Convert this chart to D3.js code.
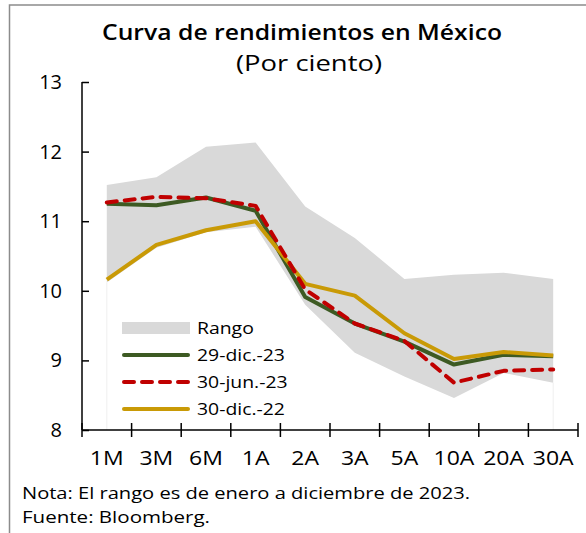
<!DOCTYPE html>
<html><head><meta charset="utf-8">
<script src="https://cdn.jsdelivr.net/npm/d3@7"></script>
<style>body{margin:0;background:#fff}svg{display:block}text{font-family:"Open Sans","Noto Sans",sans-serif;fill:#000}</style>
</head><body>
<svg id="c" width="586" height="533"></svg>
<script>
const categories = ["1M","3M","6M","1A","2A","3A","5A","10A","20A","30A"];
const rangoMax = [11.52,11.63,12.07,12.13,11.21,10.76,10.17,10.23,10.26,10.17];
const rangoMin = [10.12,10.62,10.84,10.92,9.80,9.11,8.77,8.46,8.82,8.68];
const dic23 = [11.25,11.23,11.34,11.15,9.91,9.53,9.27,8.94,9.08,9.06];
const jun23 = [11.27,11.35,11.33,11.22,10.02,9.53,9.28,8.68,8.85,8.87];
const dic22 = [10.16,10.66,10.87,11.00,10.10,9.93,9.39,9.02,9.12,9.07];
const yTicks = [8,9,10,11,12,13];
const seriesNames = ["Rango","29-dic.-23","30-jun.-23","30-dic.-22"];

const svg = d3.select("#c");
const x = d3.scaleBand().domain(categories).range([82,578]).padding(0);
const y = d3.scaleLinear().domain([8,13]).range([430,82]);
const cx = c => x(c) + x.bandwidth()/2;

function fit(sel, target){ sel.attr("textLength", target).attr("lengthAdjust","spacingAndGlyphs"); return sel; }
function widen(sel, f){ sel.each(function(){ const w=this.getComputedTextLength(); d3.select(this).attr("textLength", w*f).attr("lengthAdjust","spacingAndGlyphs"); }); return sel; }

// frame
svg.append("path").attr("d","M9.5,533V5H586").attr("fill","none").attr("stroke","#8c8c8c").attr("stroke-width",1.5);

// title
fit(svg.append("text").attr("x",302).attr("y",40).attr("text-anchor","middle")
  .style("font-size","21px").style("font-weight","600").text("Curva de rendimientos en México"), 400);
fit(svg.append("text").attr("x",309).attr("y",71).attr("text-anchor","middle")
  .style("font-size","21px").text("(Por ciento)"), 146);

// range area
const area = d3.area().x((d,i)=>cx(categories[i])).y0((d,i)=>y(rangoMin[i])).y1(d=>y(d));
svg.append("path").datum(rangoMax).attr("d",area).attr("fill","#d9d9d9");
[0,categories.length-1].forEach(i=>{
  svg.append("line").attr("x1",cx(categories[i])).attr("x2",cx(categories[i]))
    .attr("y1",y(rangoMin[i])).attr("y2",y(8)).attr("stroke","#efefef").attr("stroke-width",1);
});

const line = d3.line().x((d,i)=>cx(categories[i])).y(d=>y(d));
const styles = [
  {data:dic23,color:"#3d5a23",dash:null},
  {data:dic22,color:"#c99a06",dash:null},
  {data:jun23,color:"#c00000",dash:"10,8"}
];
styles.forEach(s=>{
  svg.append("path").datum(s.data).attr("d",line).attr("fill","none")
    .attr("stroke",s.color).attr("stroke-width",4)
    .attr("stroke-linejoin","round")
    .attr("stroke-linecap", s.dash? "round":"butt")
    .attr("stroke-dasharray",s.dash);
});

// axes
const yAxis = d3.axisRight(y).tickValues(yTicks).tickSize(7).tickFormat("");
const gy = svg.append("g").attr("transform","translate(82,0)").call(yAxis);
gy.select(".domain").attr("d","M0,"+y(13)+"V"+y(8));
gy.selectAll("line").attr("stroke","#000").attr("stroke-width",1.5);
gy.select(".domain").attr("stroke","#000").attr("stroke-width",1.5);
svg.append("g").selectAll("text").data(yTicks).join("text")
  .attr("x",62).attr("y",d=>y(d)+7).attr("text-anchor","end")
  .style("font-size","20px").text(d=>d);

const bounds = categories.map(c=>x(c)).concat([x.range()[1]]);
svg.append("line").attr("x1",82).attr("x2",578).attr("y1",430).attr("y2",430).attr("stroke","#000").attr("stroke-width",1.5);
svg.append("g").selectAll("line").data(bounds).join("line")
  .attr("x1",d=>d).attr("x2",d=>d).attr("y1",423).attr("y2",437).attr("stroke","#000").attr("stroke-width",1.5);
widen(svg.append("g").selectAll("text").data(categories).join("text")
  .attr("x",d=>cx(d)).attr("y",465).attr("text-anchor","middle")
  .style("font-size","20px").text(d=>d), 1.15);

// legend
const lg = svg.append("g");
const ly = [328,355,382,409];
lg.append("rect").attr("x",122).attr("y",ly[0]-6).attr("width",68).attr("height",12).attr("fill","#d9d9d9");
[[dic23,"#3d5a23",null],[jun23,"#c00000","10,8"],[dic22,"#c99a06",null]].forEach((s,i)=>{
  lg.append("line").attr("x1",124).attr("x2",188).attr("y1",ly[i+1]).attr("y2",ly[i+1])
    .attr("stroke",s[1]).attr("stroke-width",4).attr("stroke-dasharray",s[2])
    .attr("stroke-linecap","round");
});
widen(lg.selectAll("text").data(seriesNames).join("text")
  .attr("x",197).attr("y",(d,i)=>ly[i]+6).style("font-size","17px").text(d=>d), 1.14);

// notes
fit(svg.append("text").attr("x",22).attr("y",499).style("font-size","16px").text("Nota: El rango es de enero a diciembre de 2023."), 448);
fit(svg.append("text").attr("x",22).attr("y",523).style("font-size","16px").text("Fuente: Bloomberg."), 188);
</script>
</body></html>
